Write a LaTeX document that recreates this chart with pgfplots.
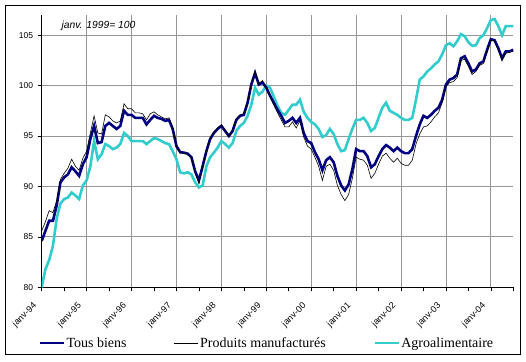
\documentclass[border=0pt]{standalone}
\usepackage{fontspec}
\setmainfont{Liberation Sans}
\newfontfamily\legfont{Liberation Serif}
\usepackage{pgfplots}
\usepackage{pgfplotstable}
\pgfplotsset{compat=1.18}
\definecolor{navyc}{RGB}{0,0,128}
\definecolor{turq}{RGB}{51,204,204}
\definecolor{gridc}{RGB}{150,150,150}
\pgfplotstableread{
m T P A
0 84.6 85.6 80.0
1 85.6 86.5 81.8
2 86.6 87.6 82.7
3 86.6 87.4 84.1
4 88.1 88.6 86.8
5 90.4 90.7 88.3
6 90.9 91.3 88.75
7 91.2 91.8 88.9
8 91.9 92.7 89.4
9 91.5 92.0 89.1
10 91.05 91.6 88.75
11 92.2 92.8 90.1
12 92.9 93.5 90.6
13 94.7 95.3 92.0
14 96.0 97.0 94.5
15 94.3 95.3 92.7
16 94.4 95.2 93.2
17 96.0 97.1 94.2
18 96.3 96.9 94.0
19 96.0 96.5 93.7
20 95.7 96.3 93.85
21 96.0 96.5 94.2
22 97.5 98.2 95.3
23 97.1 97.7 95.0
24 97.1 97.7 94.5
25 96.8 97.3 94.5
26 96.8 97.3 94.5
27 96.8 97.2 94.5
28 96.15 96.6 94.2
29 96.6 97.2 94.5
30 97.0 97.4 94.8
31 96.8 97.1 94.7
32 96.7 96.9 94.5
33 96.5 96.7 94.3
34 96.6 96.8 94.2
35 95.7 95.8 93.5
36 94.0 94.0 92.7
37 93.4 93.3 91.4
38 93.35 93.3 91.3
39 93.25 93.2 91.4
40 92.9 92.8 91.2
41 91.5 91.3 90.4
42 90.6 90.3 89.9
43 92.0 91.9 90.1
44 93.5 93.5 92.0
45 94.7 94.8 92.9
46 95.3 95.4 93.35
47 95.7 95.8 93.85
48 96.0 96.1 94.5
49 95.5 95.6 94.2
50 95.0 95.0 93.85
51 95.5 95.6 94.3
52 96.6 96.7 95.5
53 97.0 97.1 96.0
54 97.1 97.2 96.3
55 98.3 98.4 97.0
56 100.1 100.3 98.1
57 101.25 101.4 99.8
58 100.1 100.2 99.1
59 100.3 100.5 99.4
60 99.8 99.8 100.0
61 99.0 98.9 99.8
62 98.3 98.1 98.9
63 97.6 97.3 98.0
64 97.0 96.6 97.3
65 96.3 95.9 97.1
66 96.5 95.9 97.6
67 96.8 96.4 98.1
68 96.3 95.8 98.1
69 96.8 96.5 98.6
70 95.3 94.9 97.4
71 94.5 94.0 96.8
72 94.3 93.7 96.4
73 93.4 92.9 96.15
74 92.7 92.0 95.7
75 91.6 90.6 94.9
76 92.6 92.0 95.1
77 92.9 92.2 95.7
78 92.4 91.6 95.2
79 91.05 90.1 94.2
80 90.1 89.2 93.5
81 89.6 88.6 93.6
82 90.2 89.2 94.7
83 91.7 90.8 95.7
84 93.7 92.9 96.6
85 93.5 92.7 96.6
86 93.5 92.6 96.8
87 93.0 92.1 96.3
88 91.9 90.8 95.5
89 92.2 91.3 95.8
90 93.0 92.2 96.8
91 93.7 93.0 97.8
92 94.1 93.3 98.3
93 93.85 92.8 97.5
94 93.5 92.4 97.3
95 93.85 92.8 97.1
96 93.5 92.3 96.8
97 93.3 92.1 96.6
98 93.3 92.1 96.6
99 93.7 92.6 96.8
100 95.0 94.2 98.6
101 96.15 95.2 100.6
102 97.0 95.9 100.9
103 96.8 96.0 101.4
104 97.1 96.4 101.7
105 97.5 96.9 102.1
106 97.8 97.3 102.4
107 98.6 98.3 103.1
108 100.1 99.9 104.0
109 100.6 100.3 104.2
110 100.75 100.4 103.9
111 101.1 100.8 104.4
112 102.7 102.5 105.1
113 102.9 102.6 104.9
114 102.2 101.9 104.3
115 101.4 101.1 103.95
116 101.6 101.4 104.0
117 102.2 102.0 104.7
118 102.4 102.2 105.0
119 103.55 103.4 105.7
120 104.6 104.5 106.5
121 104.5 104.4 106.6
122 103.7 103.5 105.9
123 102.7 102.5 105.0
124 103.4 103.2 105.9
125 103.4 103.3 105.9
126 103.55 103.4 105.9
}\data
\begin{document}
\begin{tikzpicture}
\useasboundingbox (0,0) rectangle (526pt,361pt);
\fill[white] (0,0) rectangle (526pt,361pt);
\draw[black, line width=0.8pt] (5.5pt,6.5pt) rectangle (520.5pt,356pt);
\begin{axis}[
  at={(41.7pt,73.7pt)}, anchor=south west,
  width=471.6pt, height=272.3pt, scale only axis,
  xmin=0, xmax=126, ymin=80, ymax=107,
  axis x line=bottom, axis y line=left,
  axis line style={-, black, line width=0.8pt},
  xtick={0,12,...,120},
  xticklabels={janv-94,janv-95,janv-96,janv-97,janv-98,janv-99,janv-00,janv-01,janv-02,janv-03,janv-04},
  minor xtick={6,18,...,126},
  ytick={80,85,...,105},
  xmajorgrids, ymajorgrids,
  major grid style={gridc, line width=0.8pt},
  tick align=outside,
  major tick length=4pt, minor tick length=4pt,
  tick style={black, line width=0.6pt},
  /pgf/number format/assume math mode=true,
  yticklabel style={font=\fontsize{8.5}{9}\selectfont, xshift=-1pt},
  xticklabel style={font=\fontsize{9}{10}\selectfont, yshift=-11pt, xshift=-4pt, rotate=45, anchor=east},
  legend columns=3,
  legend style={at={(0.4767,-0.2046)}, anchor=center, draw=none, fill=none,
    font=\legfont\fontsize{14}{16}\selectfont,
    /tikz/every even column/.append style={column sep=46pt},
    nodes={inner sep=1.5pt}},
  legend cell align=left,
]
\addplot[turq, line width=2.6pt, forget plot] table[x=m, y=A] {\data};
\addplot[navyc, line width=2.6pt, legend image code/.code={\draw[navyc, line width=2.6pt] (0pt,0pt) -- (24pt,0pt);}] table[x=m, y=T] {\data};
\addlegendentry{Tous biens}
\addplot[black, line width=0.6pt, legend image code/.code={\draw[black, line width=0.6pt] (0pt,0pt) -- (24pt,0pt);}] table[x=m, y=P] {\data};
\addlegendentry{Produits manufacturés}
\addlegendimage{turq, line width=2.6pt, legend image code/.code={\draw[turq, line width=2.6pt] (0pt,0pt) -- (24pt,0pt);}}
\addlegendentry{Agroalimentaire}
\node[anchor=west, font=\itshape\fontsize{10.3}{11}\selectfont] at (axis description cs:0.0346,0.9596) {janv. 1999= 100};
\end{axis}
\end{tikzpicture}
\end{document}
